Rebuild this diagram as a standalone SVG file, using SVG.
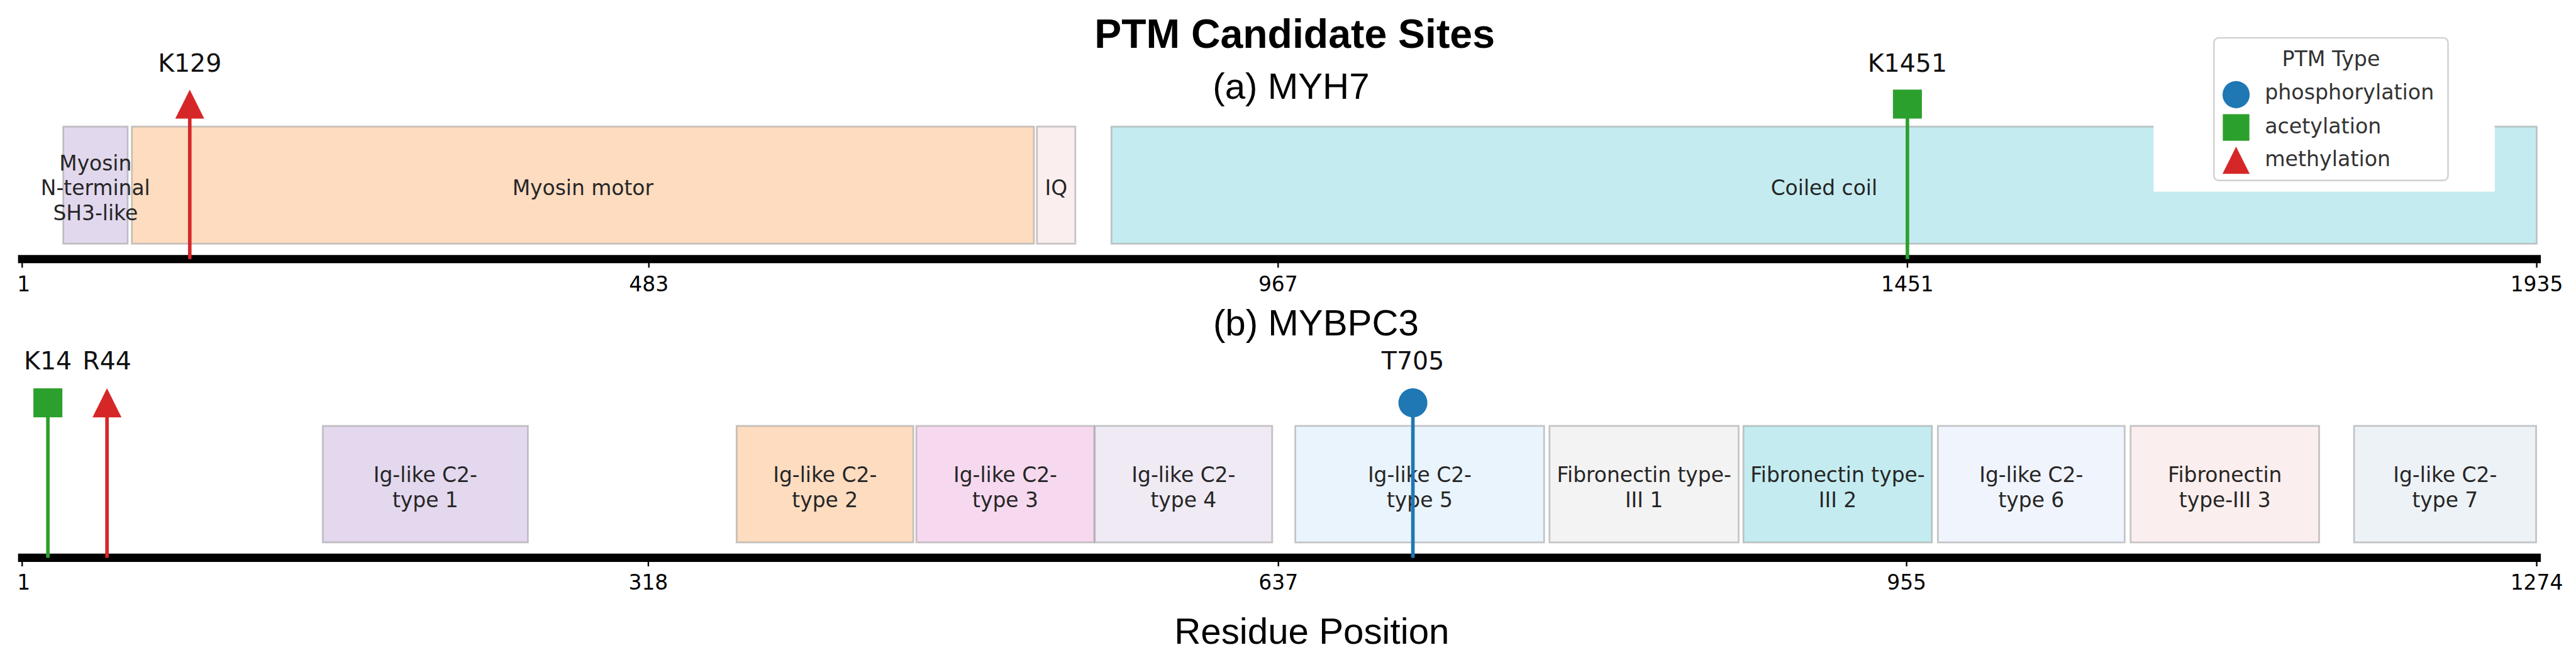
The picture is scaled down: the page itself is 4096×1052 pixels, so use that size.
<svg xmlns="http://www.w3.org/2000/svg" width="4096" height="1052" viewBox="0 0 4096 1052">
<style>
.title{font-family:"Liberation Sans",Arial,sans-serif;font-weight:bold;font-size:68.5px;fill:#000;text-anchor:middle}
.sub{font-family:"Liberation Sans",Arial,sans-serif;font-size:62px;fill:#000;text-anchor:middle}
.tick{font-family:"DejaVu Sans",sans-serif;font-size:35px;fill:#000;text-anchor:middle}
.ptm{font-family:"DejaVu Sans",sans-serif;font-size:42px;fill:#111;text-anchor:middle}
.dom{font-family:"DejaVu Sans",sans-serif;font-size:35px;fill:#262626;text-anchor:middle}
.leg{font-family:"DejaVu Sans",sans-serif;font-size:35.4px;fill:#333}
.legt{font-family:"DejaVu Sans",sans-serif;font-size:35.4px;fill:#333;text-anchor:middle}
.box{stroke:#9a9a9a;stroke-opacity:0.55;stroke-width:3}
.bar{stroke:#000;stroke-width:14;stroke-linecap:square}
.tk{stroke:#000;stroke-width:2.5}
.stem{stroke-width:6;fill:none}
.red{fill:#d62728}
.green{fill:#2ca02c}
.blue{fill:#1f77b4}
</style>
<rect width="4096" height="1052" fill="#fff"/>
<g transform="scale(0.94)">
  <text class="title" x="2190" y="81">PTM Candidate Sites</text>
  <text class="sub" x="2184" y="167">(a) MYH7</text>
  <text class="sub" x="2226" y="567">(b) MYBPC3</text>
  <text class="sub" x="2219" y="1088">Residue Position</text>

  <!-- MYH7 domains -->
  <g id="myh7-motor"><rect class="box" x="223" y="214" width="1526" height="198" fill="#fddcc0"/>
    <text class="dom" x="986" y="330">Myosin motor</text></g>
  <g id="myh7-sh3"><rect class="box" x="107" y="214" width="109" height="198" fill="#e2d8ee"/>
    <text class="dom"><tspan x="161.5" y="288">Myosin</tspan><tspan x="161.5" y="330">N-terminal</tspan><tspan x="161.5" y="372">SH3-like</tspan></text></g>
  <g id="myh7-iq"><rect class="box" x="1754" y="214" width="65" height="198" fill="#fbeeee"/>
    <text class="dom" x="1786.5" y="330">IQ</text></g>
  <g id="myh7-coil"><rect class="box" x="1880" y="214" width="2411" height="198" fill="#c4ecf0"/>
    <text class="dom" x="3085.5" y="330">Coiled coil</text></g>

  <!-- MYBPC3 domains -->
  <g id="mybpc3-ig1"><rect class="box" x="546" y="720" width="347" height="197" fill="#e3d8ee"/>
    <text class="dom"><tspan x="719.5" y="815">Ig-like C2-</tspan><tspan x="719.5" y="857">type 1</tspan></text></g>
  <g id="mybpc3-ig2"><rect class="box" x="1246" y="720" width="299" height="197" fill="#fddcc0"/>
    <text class="dom"><tspan x="1395.5" y="815">Ig-like C2-</tspan><tspan x="1395.5" y="857">type 2</tspan></text></g>
  <g id="mybpc3-ig3"><rect class="box" x="1550" y="720" width="301" height="197" fill="#f6d9ef"/>
    <text class="dom"><tspan x="1700.5" y="815">Ig-like C2-</tspan><tspan x="1700.5" y="857">type 3</tspan></text></g>
  <g id="mybpc3-ig4"><rect class="box" x="1852" y="720" width="300" height="197" fill="#efeaf4"/>
    <text class="dom"><tspan x="2002" y="815">Ig-like C2-</tspan><tspan x="2002" y="857">type 4</tspan></text></g>
  <g id="mybpc3-ig5"><rect class="box" x="2191" y="720" width="421" height="197" fill="#eaf4fc"/>
    <text class="dom"><tspan x="2401.5" y="815">Ig-like C2-</tspan><tspan x="2401.5" y="857">type 5</tspan></text></g>
  <g id="mybpc3-fn1"><rect class="box" x="2621" y="720" width="320" height="197" fill="#f3f3f3"/>
    <text class="dom"><tspan x="2781" y="815">Fibronectin type-</tspan><tspan x="2781" y="857">III 1</tspan></text></g>
  <g id="mybpc3-fn2"><rect class="box" x="2949" y="720" width="319" height="197" fill="#c4ecf0"/>
    <text class="dom"><tspan x="3108.5" y="815">Fibronectin type-</tspan><tspan x="3108.5" y="857">III 2</tspan></text></g>
  <g id="mybpc3-ig6"><rect class="box" x="3278" y="720" width="316" height="197" fill="#f0f4fc"/>
    <text class="dom"><tspan x="3436" y="815">Ig-like C2-</tspan><tspan x="3436" y="857">type 6</tspan></text></g>
  <g id="mybpc3-fn3"><rect class="box" x="3604" y="720" width="319" height="197" fill="#fbeeee"/>
    <text class="dom"><tspan x="3763.5" y="815">Fibronectin</tspan><tspan x="3763.5" y="857">type-III 3</tspan></text></g>
  <g id="mybpc3-ig7"><rect class="box" x="3982" y="720" width="308" height="197" fill="#edf2f7"/>
    <text class="dom"><tspan x="4136" y="815">Ig-like C2-</tspan><tspan x="4136" y="857">type 7</tspan></text></g>

  <!-- axes -->
  <g id="axis-myh7">
    <line class="bar" x1="37.5" y1="438" x2="4291" y2="438"/>
    <line class="tk" x1="37.5" y1="440" x2="37.5" y2="452.5"/>
    <line class="tk" x1="1097.6" y1="440" x2="1097.6" y2="452.5"/>
    <line class="tk" x1="2162" y1="440" x2="2162" y2="452.5"/>
    <line class="tk" x1="3226.5" y1="440" x2="3226.5" y2="452.5"/>
    <line class="tk" x1="4291" y1="440" x2="4291" y2="452.5"/>
    <text class="tick" x="40" y="493">1</text>
    <text class="tick" x="1097.6" y="493">483</text>
    <text class="tick" x="2162" y="493">967</text>
    <text class="tick" x="3226.5" y="493">1451</text>
    <text class="tick" x="4291" y="493">1935</text>
  </g>
  <g id="axis-mybpc3">
    <line class="bar" x1="37.5" y1="943" x2="4291" y2="943"/>
    <line class="tk" x1="37.5" y1="945" x2="37.5" y2="957.5"/>
    <line class="tk" x1="1096.7" y1="945" x2="1096.7" y2="957.5"/>
    <line class="tk" x1="2162.5" y1="945" x2="2162.5" y2="957.5"/>
    <line class="tk" x1="3225.1" y1="945" x2="3225.1" y2="957.5"/>
    <line class="tk" x1="4291" y1="945" x2="4291" y2="957.5"/>
    <text class="tick" x="40" y="997">1</text>
    <text class="tick" x="1096.7" y="997">318</text>
    <text class="tick" x="2162.5" y="997">637</text>
    <text class="tick" x="3225.1" y="997">955</text>
    <text class="tick" x="4291" y="997">1274</text>
  </g>

  <!-- legend -->
  <g id="legend">
    <rect x="3643" y="205" width="577" height="119" fill="#fff"/>
    <rect x="3745" y="64" width="396" height="241" rx="8" ry="8" fill="#fff" stroke="#d0d0d0" stroke-width="2.5"/>
    <text class="legt" x="3943" y="112">PTM Type</text>
    <circle class="blue" cx="3782.5" cy="160" r="23"/>
    <text class="leg" x="3831" y="168">phosphorylation</text>
    <rect class="green" x="3760" y="193" width="45" height="45"/>
    <text class="leg" x="3831" y="225">acetylation</text>
    <polygon class="red" points="3782.5,248 3759.5,294 3805.5,294"/>
    <text class="leg" x="3831" y="281">methylation</text>
  </g>

  <!-- stems -->
  <g id="connectors">
    <line class="stem" x1="321" y1="438" x2="321" y2="176" stroke="#d62728"/>
    <line class="stem" x1="3226.5" y1="438" x2="3226.5" y2="176" stroke="#2ca02c"/>
    <line class="stem" x1="81" y1="943" x2="81" y2="681" stroke="#2ca02c"/>
    <line class="stem" x1="181" y1="943" x2="181" y2="681" stroke="#d62728"/>
    <line class="stem" x1="2390" y1="943" x2="2390" y2="681" stroke="#1f77b4"/>
  </g>

  <!-- PTM sites -->
  <g id="ptm-K129">
    <polygon class="red" points="321,151.5 296.5,200.5 345.5,200.5"/>
    <text class="ptm" x="321" y="121">K129</text>
  </g>
  <g id="ptm-K1451">
    <rect class="green" x="3202" y="151.5" width="49" height="49"/>
    <text class="ptm" x="3226.5" y="121">K1451</text>
  </g>
  <g id="ptm-K14">
    <rect class="green" x="56.5" y="656.5" width="49" height="49"/>
    <text class="ptm" x="81" y="624">K14</text>
  </g>
  <g id="ptm-R44">
    <polygon class="red" points="181,656.5 156.5,705.5 205.5,705.5"/>
    <text class="ptm" x="181" y="624">R44</text>
  </g>
  <g id="ptm-T705">
    <circle class="blue" cx="2390" cy="681" r="24.5"/>
    <text class="ptm" x="2390" y="624">T705</text>
  </g>
</g>
</svg>
